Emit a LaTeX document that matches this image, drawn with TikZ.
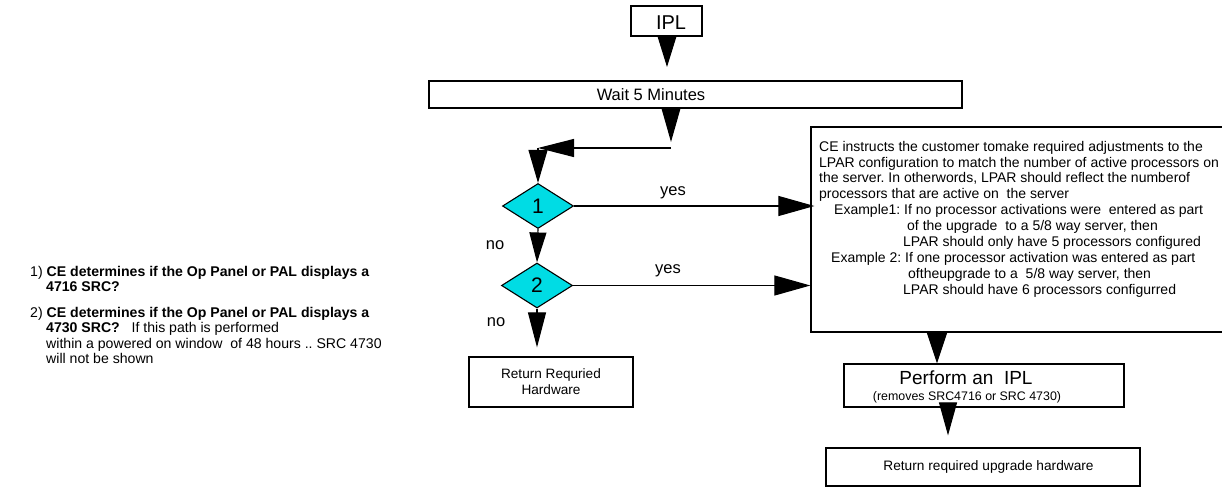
\documentclass[tikz,border=0pt]{standalone}
\usepackage{fontspec}
\setmainfont{Liberation Sans}
\usetikzlibrary{arrows.meta,shapes.geometric}
\definecolor{decfill}{RGB}{0,220,228}
\frenchspacing
\begin{document}
\begin{tikzpicture}[x=1pt,y=-1pt,
  box/.style={draw,line width=1.2pt,rectangle,inner sep=0pt},
  dec/.style={draw,line width=1.1pt,diamond,fill=decfill,minimum width=71pt,
    minimum height=45pt,inner sep=0pt,font=\fontsize{21}{24}\selectfont},
  bigtip/.style 2 args={line width=1.1pt,-{Triangle[length=#1,width=#2]}},
  lbl/.style={inner sep=0pt,font=\fontsize{16.5}{19}\selectfont},
  txt/.style={inner sep=0pt,align=left,anchor=north west},
  notefont/.style={font=\fontsize{14.1}{15.5}\selectfont},
]
\useasboundingbox (0,0) rectangle (1222,487);

% boxes of the main flow
\node[box,minimum width=71pt,minimum height=30pt] (ipl) at (666.5,21) {};
\node[inner sep=0pt,font=\fontsize{20}{24}\selectfont] (ipltxt) at (671,22.5) {IPL};

\node[box,minimum width=533pt,minimum height=27pt] (wait) at (695.5,94.5) {};
\node[lbl] (waittxt) at (651,94.5) {Wait 5 Minutes};

\node[dec] (d1) at (538,206) {1};
\node[dec] (d2) at (537,285.5) {2};

\node[box,minimum width=164pt,minimum height=50pt,align=center,
  font=\fontsize{13.6}{16}\selectfont] (rrh) at (551,382) {Return Requried\\Hardware};

% the instruction box runs off the right edge
\node[box,minimum width=413pt,minimum height=205pt] (big) at (1017.5,229.5) {};
\node[txt,font=\fontsize{14}{15.9}\selectfont] (bigtxt) at (819,140.8)
{CE instructs the customer tomake required adjustments to the\\
LPAR configuration to match the number of active processors on\\
the server. In otherwords, LPAR should reflect the numberof\\
processors that are active on~ the server\\
\hspace*{15pt}Example1: If no processor activations were~ entered as part\\
\hspace*{88pt}of the upgrade~ to a 5/8 way server, then\\
\hspace*{84pt}LPAR should only have 5 processors configured\\
\hspace*{12pt}Example 2: If one processor activation was entered as part\\
\hspace*{89pt}oftheupgrade to a~ 5/8 way server, then\\
\hspace*{84pt}LPAR should have 6 processors configurred};

\node[box,minimum width=280pt,minimum height=43pt] (perf) at (984,385.5) {};
\node[inner sep=0pt,font=\fontsize{19}{22}\selectfont] (perftxt) at (966,378) {Perform an~ IPL};
\node[inner sep=0pt,font=\fontsize{12.4}{14}\selectfont] (perfsub) at (967,397) {(removes SRC4716 or SRC 4730)};

\node[box,minimum width=314pt,minimum height=38pt] (rreq) at (983,467) {};
\node[inner sep=0pt,font=\fontsize{13.7}{16}\selectfont] (rreqtxt) at (988.5,467)
{Return required upgrade hardware};

% side notes
\node[txt,notefont] (note1) at (30,265.8)
{1) \textbf{CE determines if the Op Panel or PAL displays a}\\
\hspace*{16pt}\textbf{4716 SRC?}};
\node[txt,notefont] (note2) at (30,306.8)
{2) \textbf{CE determines if the Op Panel or PAL displays a}\\
\hspace*{16pt}\textbf{4730 SRC?}~~ If this path is performed\\
\hspace*{16pt}within a powered on window~ of 48 hours .. SRC 4730\\
\hspace*{16pt}will not be shown};

% connectors
\coordinate (c1) at (667,67);
\coordinate (turn) at (671,148);
\coordinate (c2) at (937,0);
\coordinate (c3) at (948,0);

\draw[bigtip={31pt}{19pt}] (ipl.south -| c1) -- (c1);
\draw[bigtip={34pt}{19pt},shorten >=6pt] (wait.south -| turn) -- (turn);
\draw[bigtip={36pt}{18pt}] (turn) -- (turn -| d1);
\draw[bigtip={33pt}{19pt}] (turn -| d1) -- (d1.north);

\draw[bigtip={36pt}{20pt},shorten >=-4pt] (d1.east) -- (d1.east -| big.west);
\node[lbl] (yes1) at (673,193) {yes};
\draw[bigtip={30pt}{17pt}] (d1.south) -- (d2.north);
\node[lbl] (no1) at (495,245) {no};

\draw[bigtip={36pt}{20pt}] (d2.east) -- (d2.east -| big.west);
\node[lbl] (yes2) at (668,271) {yes};
\draw[bigtip={35pt}{18pt},shorten >=9pt] (d2.south) -- (rrh.north -| d2.south);
\node[lbl] (no2) at (496,322) {no};

\draw[bigtip={32pt}{21pt}] (big.south -| c2) -- (perf.north -| c2);
\draw[bigtip={33pt}{18pt},shorten >=12pt] (perf.south -| c3) -- (rreq.north -| c3);
\end{tikzpicture}
\end{document}
